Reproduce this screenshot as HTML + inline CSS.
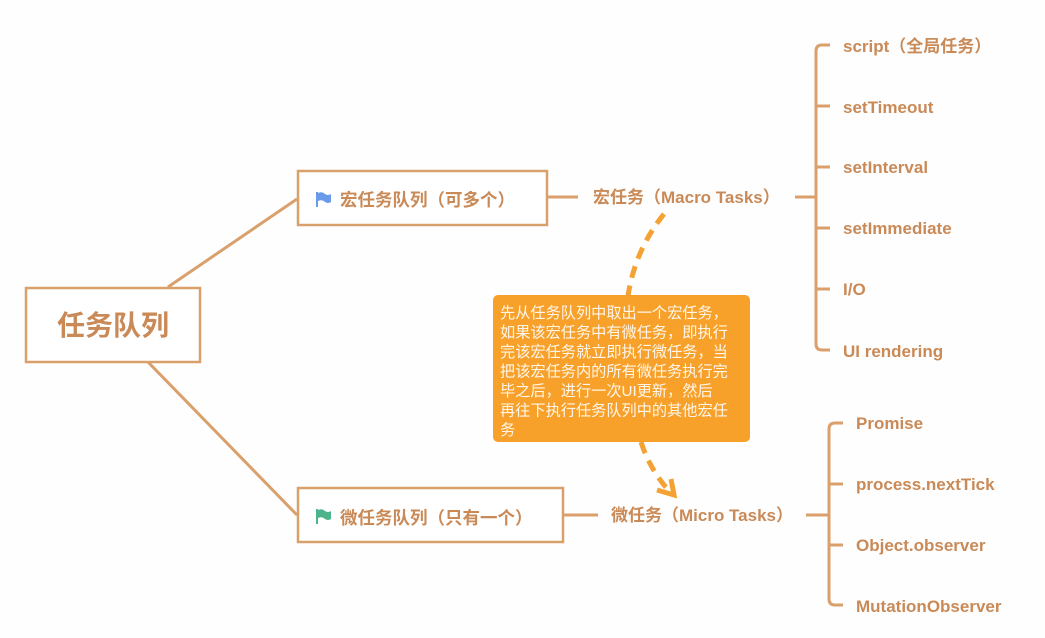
<!DOCTYPE html>
<html><head><meta charset="utf-8"><style>
body{margin:0;background:#fff;}
svg{display:block}
text{font-family:"Liberation Sans","Noto Sans CJK SC",sans-serif;font-weight:bold;fill:#c98a57;}
</style></head><body>
<svg width="1045" height="638" viewBox="0 0 1045 638" xmlns="http://www.w3.org/2000/svg">
<rect width="1045" height="638" fill="#fefefe"/>
<g stroke="#d9a06c" stroke-width="3" fill="none">
<line x1="168" y1="287" x2="297" y2="199"/>
<line x1="148" y1="362" x2="297" y2="515"/>
<rect x="26" y="288" width="174" height="74" fill="#fff" stroke-width="2.5"/>
<rect x="298" y="171" width="249" height="54" fill="#fff" stroke-width="2.5"/>
<rect x="298" y="488" width="265" height="54" fill="#fff" stroke-width="2.5"/>
<line x1="547" y1="197" x2="578" y2="197"/>
<line x1="563" y1="515" x2="598" y2="515"/>
<line x1="795" y1="197" x2="816" y2="197"/>
<path d="M830 45 H822 Q816 45 816 51 V344 Q816 350 822 350 H830"/>
<line x1="816" y1="106" x2="830" y2="106"/>
<line x1="816" y1="167" x2="830" y2="167"/>
<line x1="816" y1="228" x2="830" y2="228"/>
<line x1="816" y1="289" x2="830" y2="289"/>
<line x1="806" y1="515" x2="829" y2="515"/>
<path d="M843 423 H835 Q829 423 829 429 V599 Q829 605 835 605 H843"/>
<line x1="829" y1="484" x2="843" y2="484"/>
<line x1="829" y1="545" x2="843" y2="545"/>
</g>
<g stroke="#f4a234" stroke-width="5" fill="none" stroke-dasharray="12,8">
<path d="M664 214 Q635 250 628 296"/>
<path d="M641 442 Q650 470 670 492"/>
</g>
<path d="M657 490 L674 495 L671 479" stroke="#f4a234" stroke-width="5" fill="none"/>
<rect x="493" y="295" width="257" height="147" rx="5" fill="#f8a12a"/>
<g font-size="15.2">
<text x="500" y="318" style="fill:#fff6ea;font-weight:normal">先从任务队列中取出一个宏任务，</text>
<text x="500" y="337.5" style="fill:#fff6ea;font-weight:normal">如果该宏任务中有微任务，即执行</text>
<text x="500" y="357" style="fill:#fff6ea;font-weight:normal">完该宏任务就立即执行微任务，当</text>
<text x="500" y="376.5" style="fill:#fff6ea;font-weight:normal">把该宏任务内的所有微任务执行完</text>
<text x="500" y="396" style="fill:#fff6ea;font-weight:normal">毕之后，进行一次UI更新，然后</text>
<text x="500" y="415.5" style="fill:#fff6ea;font-weight:normal">再往下执行任务队列中的其他宏任</text>
<text x="500" y="435" style="fill:#fff6ea;font-weight:normal">务</text>
</g>
<text x="113" y="335" font-size="28" text-anchor="middle">任务队列</text>
<path d="M317 192 V207" stroke="#6a9be8" stroke-width="2"/>
<path d="M318 193 Q322 191 325 194 Q328 196 331 194 V202 Q328 204 325 202 Q322 199 318 201Z" fill="#6a9be8"/>
<text x="340" y="206" font-size="17.5">宏任务队列（可多个）</text>
<path d="M317 509 V524" stroke="#4cb38a" stroke-width="2"/>
<path d="M318 510 Q322 508 325 511 Q328 513 331 511 V519 Q328 521 325 519 Q322 516 318 518Z" fill="#4cb38a"/>
<text x="340" y="524" font-size="17.5">微任务队列（只有一个）</text>
<text x="593" y="203" font-size="17">宏任务（Macro Tasks）</text>
<text x="611" y="521" font-size="17">微任务（Micro Tasks）</text>
<g font-size="17">
<text x="843" y="52">script（全局任务）</text>
<text x="843" y="113">setTimeout</text>
<text x="843" y="173">setInterval</text>
<text x="843" y="234">setImmediate</text>
<text x="843" y="295">I/O</text>
<text x="843" y="357">UI rendering</text>
<text x="856" y="429">Promise</text>
<text x="856" y="490">process.nextTick</text>
<text x="856" y="551">Object.observer</text>
<text x="856" y="612">MutationObserver</text>
</g>
</svg>
</body></html>
